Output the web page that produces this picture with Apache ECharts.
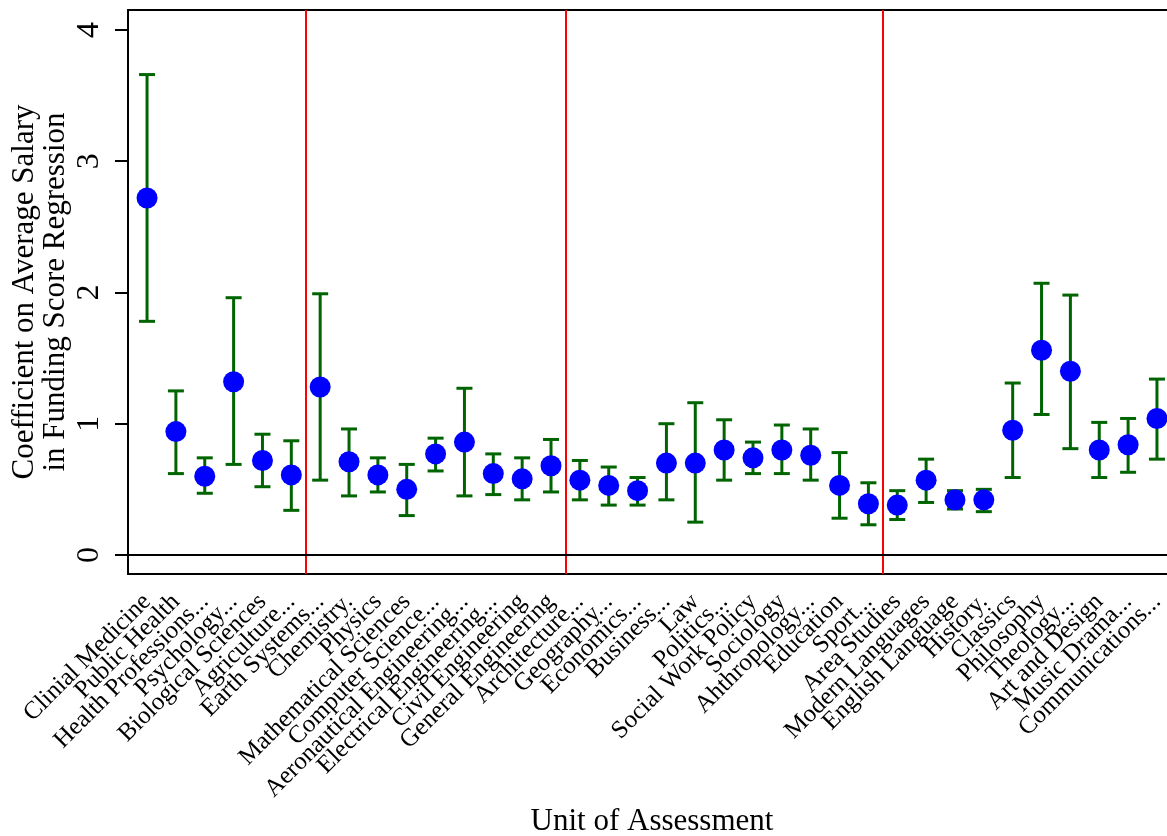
<!DOCTYPE html>
<html>
<head>
<meta charset="utf-8">
<script src="https://cdn.jsdelivr.net/npm/echarts@6/dist/echarts.min.js"></script>
<style>
  html, body { margin: 0; padding: 0; background: #fff; }
  #main { width: 1167px; height: 836px; }
</style>
</head>
<body>
<div id="main"></div>
<script>
// unit of assessment labels, as printed on the chart
let categories = [
  'Clinial Medicine', 'Public Health', 'Health Professions...', 'Psychology...',
  'Biological Sciences', 'Agriculture...', 'Earth Systems...', 'Chemistry.',
  'Physics', 'Mathematical Sciences', 'Computer Science...', 'Aeronautical Engineering...',
  'Electrical Engineering...', 'Civil Engineering', 'General Engineering', 'Architecture...',
  'Geography...', 'Economics...', 'Business...', 'Law',
  'Politics...', 'Social Work Policy', 'Sociology', 'Ahthropology...',
  'Education', 'Sport...', 'Area Studies', 'Modern Languages',
  'English Language', 'History.', 'Classics', 'Philosophy',
  'Theology...', 'Art and Design', 'Music Drama...', 'Communications...'
];

let coef = [
  2.72, 0.94, 0.60, 1.32, 0.72, 0.61, 1.28, 0.71, 0.61, 0.50, 0.77, 0.86,
  0.62, 0.58, 0.68, 0.57, 0.53, 0.49, 0.70, 0.70, 0.80, 0.74, 0.80, 0.76,
  0.53, 0.39, 0.38, 0.57, 0.42, 0.42, 0.95, 1.56, 1.40, 0.80, 0.84, 1.04
];

let lower = [
  1.78, 0.62, 0.47, 0.69, 0.52, 0.34, 0.57, 0.45, 0.48, 0.30, 0.64, 0.45,
  0.46, 0.42, 0.48, 0.42, 0.38, 0.38, 0.42, 0.25, 0.57, 0.62, 0.62, 0.57,
  0.28, 0.23, 0.27, 0.40, 0.35, 0.33, 0.59, 1.07, 0.81, 0.59, 0.63, 0.73
];

let upper = [
  3.66, 1.25, 0.74, 1.96, 0.92, 0.87, 1.99, 0.96, 0.74, 0.69, 0.89, 1.27,
  0.77, 0.74, 0.88, 0.72, 0.67, 0.59, 1.00, 1.16, 1.03, 0.86, 0.99, 0.96,
  0.78, 0.55, 0.49, 0.73, 0.49, 0.50, 1.31, 2.07, 1.98, 1.01, 1.04, 1.34
];

let yTicks = [0, 1, 2, 3, 4];
let groupBreaks = [6.5, 15.5, 26.5];

window.addEventListener('load', function () {
  let chart = echarts.init(document.getElementById('main'));
  let serif = 'Liberation Serif';

  let points = coef.map((v, i) => [i + 1, v]);
  let bars = coef.map((v, i) => [i + 1, lower[i], upper[i]]);

  // plotting range in x: unit positions 1..36, with 0.66 units of padding each side
  let xMin = 0.34, xMax = 36.66;
  let plotLeft = 128, plotWidth = 1048, plotTop = 10, plotHeight = 564;
  let unit = plotWidth / (xMax - xMin);

  let option = {
    backgroundColor: '#fff',
    animation: false,
    grid: [
      {
        left: plotLeft, top: plotTop, width: plotWidth, height: plotHeight,
        outerBoundsMode: 'none', containLabel: false,
        show: true, borderColor: '#000', borderWidth: 2, backgroundColor: 'transparent'
      },
      {
        // band grid used only to place the category labels under each point
        left: plotLeft + (1 - xMin - 0.5) * unit, top: plotTop,
        width: categories.length * unit, height: plotHeight,
        outerBoundsMode: 'none', containLabel: false, show: false
      }
    ],
    xAxis: [
      {
        type: 'value',
        gridIndex: 0,
        min: xMin,
        max: xMax,
        name: 'Unit of Assessment',
        nameLocation: 'middle',
        nameGap: 232,
        nameMoveOverlap: false,
        nameTextStyle: { fontFamily: serif, fontSize: 31, color: '#000' },
        splitLine: { show: false },
        axisLine: { show: true, lineStyle: { color: '#000', width: 2 } },
        axisTick: { show: false },
        axisLabel: { show: false }
      },
      {
        type: 'category',
        gridIndex: 1,
        data: categories,
        boundaryGap: true,
        axisLine: { show: false },
        axisTick: { show: false },
        splitLine: { show: false },
        axisLabel: {
          interval: 0,
          rotate: 45,
          margin: 24,
          fontFamily: serif,
          fontSize: 25,
          color: '#000'
        }
      }
    ],
    yAxis: [
      {
        type: 'value',
        gridIndex: 0,
        min: -0.145,
        max: 4.152,
        name: 'Coefficient on Average Salary\nin Funding Score Regression',
        nameLocation: 'middle',
        nameGap: 57,
        nameMoveOverlap: false,
        nameTextStyle: { fontFamily: serif, fontSize: 31, color: '#000', lineHeight: 31 },
        splitLine: { show: false },
        axisLine: { show: true, lineStyle: { color: '#000', width: 2 } },
        axisTick: {
          show: true, customValues: yTicks, length: 13,
          lineStyle: { color: '#000', width: 2 }
        },
        axisLabel: {
          customValues: yTicks,
          rotate: 90,
          margin: 22,
          fontFamily: serif,
          fontSize: 32,
          color: '#000'
        }
      },
      {
        type: 'value',
        gridIndex: 1,
        show: false
      }
    ],
    series: [
      {
        type: 'custom',
        name: 'ci',
        xAxisIndex: 0,
        yAxisIndex: 0,
        data: bars,
        silent: true,
        renderItem: function (params, api) {
          let x = api.value(0);
          let lo = api.coord([x, api.value(1)]);
          let hi = api.coord([x, api.value(2)]);
          let half = 8;
          let style = { stroke: '#006400', lineWidth: 3 };
          return {
            type: 'group',
            children: [
              { type: 'line', shape: { x1: lo[0], y1: lo[1], x2: hi[0], y2: hi[1] }, style: style },
              { type: 'line', shape: { x1: lo[0] - half, y1: lo[1], x2: lo[0] + half, y2: lo[1] }, style: style },
              { type: 'line', shape: { x1: hi[0] - half, y1: hi[1], x2: hi[0] + half, y2: hi[1] }, style: style }
            ]
          };
        },
        markLine: {
          silent: true,
          symbol: 'none',
          label: { show: false },
          data: groupBreaks.map(b => ({
            xAxis: b, lineStyle: { color: '#ff0000', width: 2, type: 'solid' }
          })).concat([
            { yAxis: 0, lineStyle: { color: '#000', width: 2, type: 'solid' } }
          ])
        }
      },
      {
        type: 'scatter',
        name: 'coef',
        xAxisIndex: 0,
        yAxisIndex: 0,
        data: points,
        symbol: 'circle',
        symbolSize: 21,
        itemStyle: { color: '#0000ff', opacity: 1 },
        clip: false
      }
    ]
  };

  chart.setOption(option);
});
</script>
</body>
</html>
